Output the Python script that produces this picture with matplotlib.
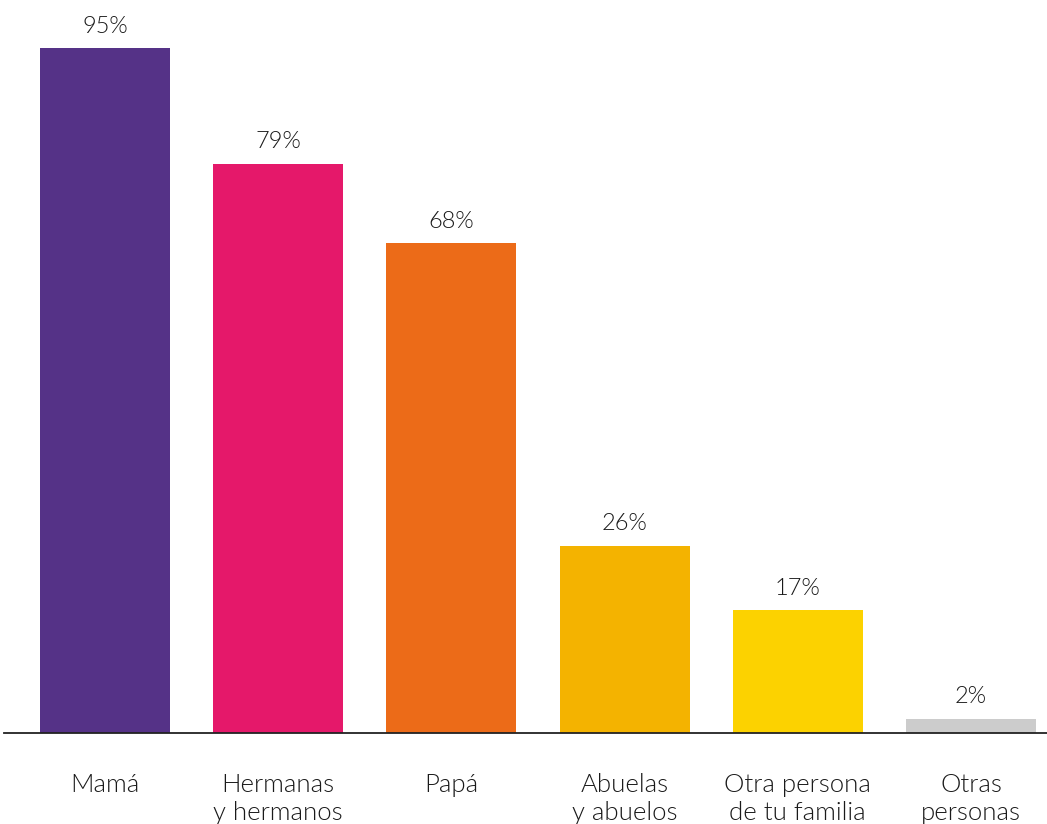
import matplotlib
matplotlib.use("Agg")
import matplotlib.pyplot as plt

# Who the kids live with (share of respondents)
categories = ["Mamá", "Hermanas\ny hermanos", "Papá", "Abuelas\ny abuelos",
              "Otra persona\nde tu familia", "Otras\npersonas"]
values = [95, 79, 68, 26, 17, 2]
colors = ["#553287", "#E5186A", "#EC6B18", "#F4B300", "#FCD200", "#CCCCCC"]

plt.rcParams["font.family"] = ["Lato", "DejaVu Sans"]
text_color = "#1a1a1a"

W, H = 1047, 824
fig = plt.figure(figsize=(W / 100, H / 100), dpi=100)
ax = fig.add_axes([4 / W, (H - 733) / H, 1043 / W, 733 / H])

x = list(range(len(values)))
bars = ax.bar(x, values, width=0.75, color=colors, zorder=2)

for rect, v in zip(bars, values):
    ax.annotate(f"{v}%", (rect.get_x() + rect.get_width() / 2, v),
                xytext=(0, 8), textcoords="offset points",
                ha="center", va="bottom", fontsize=17, fontweight=300,
                color=text_color)

ax.set_xlim(-0.583, 5.439)
ax.set_ylim(0, 101.7)

for spine in ["top", "right", "left"]:
    ax.spines[spine].set_visible(False)
ax.spines["bottom"].set_color("#222222")
ax.spines["bottom"].set_linewidth(1.3)

ax.set_yticks([])
ax.set_xticks(x)
ax.set_xticklabels(categories, fontsize=18.5, fontweight=300,
                   color=text_color, va="top", linespacing=1.2)
ax.tick_params(axis="x", length=0, pad=29)

fig.savefig("out.png", dpi=100)
